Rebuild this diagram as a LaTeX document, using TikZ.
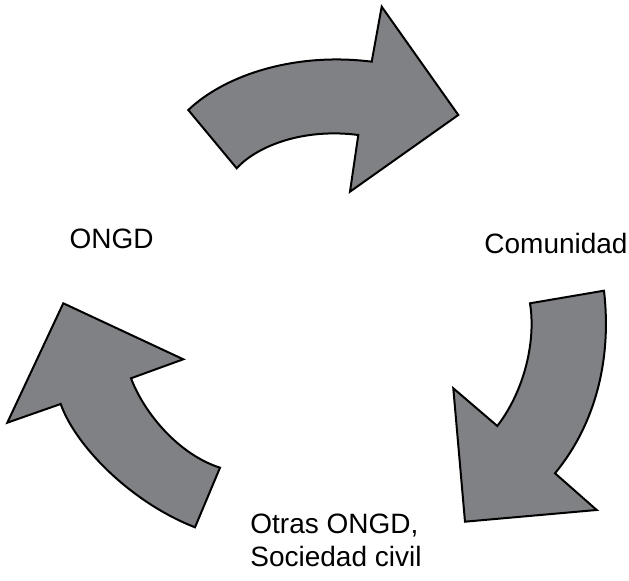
\documentclass[tikz,border=0pt]{standalone}
\usepackage{fontspec}
\setmainfont{Liberation Sans}
\definecolor{flechagris}{RGB}{128,129,132}
\tikzset{flecha/.style={fill=flechagris, draw=black, line width=1pt, line join=miter},
         actor/.style={font=\fontsize{14}{16.5}\selectfont, inner sep=0pt}}

\begin{document}
\begin{tikzpicture}[x=0.5pt,y=-0.5pt]
   \useasboundingbox (0,0) rectangle (629,581);
   % flecha superior
   \draw[flecha] (188.3,110) .. controls (225,75) and (295,52) .. (371.7,61.7)
      -- (381.7,6.7) -- (458.3,115) -- (350,191.7) -- (358.3,135)
      .. controls (305,128) and (258,145) .. (236.7,168.3) -- cycle;
   % flecha derecha
   \draw[flecha] (530,303.3) -- (604,290.7) .. controls (612,360) and (595,425) .. (555,473.3)
      -- (596.7,510) -- (465,521.7) -- (453.3,388.3) -- (497.3,426)
      .. controls (525,390) and (536,340) .. cycle;
   % flecha izquierda
   \draw[flecha] (63.3,303.3) -- (183.3,359.3) -- (131,378.3)
      .. controls (145,415) and (180,455) .. (220,467.7) -- (195,527.3)
      .. controls (130,502) and (75,445) .. (60.7,404) -- (7.3,422.7) -- cycle;
   % etiquetas
   \node[actor] (ongd) at (111.7,239) {ONGD};
   \node[actor] (comunidad) at (556,244) {Comunidad};
   \node[actor, align=left, anchor=north west] (otras) at (250,514) {Otras ONGD,\\Sociedad civil};
\end{tikzpicture}
\end{document}
